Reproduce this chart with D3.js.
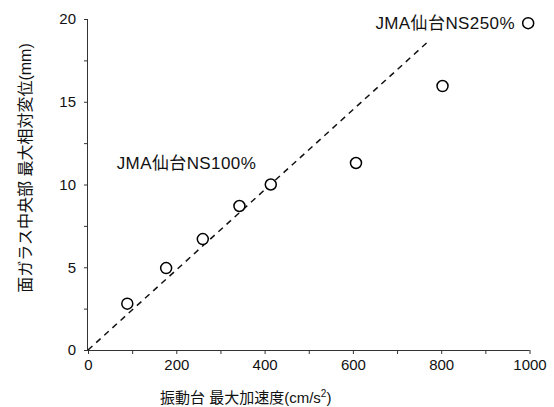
<!DOCTYPE html>
<html>
<head>
<meta charset="utf-8">
<script src="https://cdn.jsdelivr.net/npm/d3@7"></script>
<style>
  body { margin: 0; background: #fff; }
  svg { display: block; font-family: "Liberation Sans", Arial, "Noto Sans CJK JP", sans-serif; }
</style>
</head>
<body>
<div id="graph"></div>
<script>
// accel (cm/s2) vs max relative displacement (mm)
var accel = [89, 177, 260, 343, 414, 607, 803, 997];
var disp = [2.8, 4.95, 6.7, 8.7, 10.0, 11.3, 15.95, 19.75];
var fitLine = [[0, 0], [769, 18.6]];
var xTicks = [0, 200, 400, 600, 800, 1000];
var yTicks = [0, 5, 10, 15, 20];
var labels = [
  {text: "JMA仙台NS100%", x: 65, y: 11.3},
  {text: "JMA仙台NS250%", x: 651, y: 19.75}
];

var w = 554, h = 407;
var vis = d3.select("#graph").append("svg")
  .attr("width", w)
  .attr("height", h);

var x = d3.scaleLinear().domain([0, 1000]).range([88, 529.5]);
var y = d3.scaleLinear().domain([0, 20]).range([350, 19]);

var xAxis = d3.axisBottom(x)
  .tickValues(d3.range(0, 1001, 100))
  .tickSize(4)
  .tickFormat(function(d) { return xTicks.indexOf(d) >= 0 ? d : ""; });
var yAxis = d3.axisLeft(y)
  .tickValues(d3.range(0, 20.01, 2.5))
  .tickSize(4)
  .tickFormat(function(d) { return yTicks.indexOf(d) >= 0 ? d : ""; });

var gx = vis.append("g")
  .attr("transform", "translate(0," + y(0) + ")")
  .call(xAxis);
var gy = vis.append("g")
  .attr("transform", "translate(" + x(0) + ",0)")
  .call(yAxis);

[gx, gy].forEach(function(g) {
  g.select(".domain").attr("stroke", "#333");
  g.selectAll(".tick line").attr("stroke", "#333");
  g.selectAll(".tick text")
    .attr("fill", "#111")
    .style("font-size", "15px")
    .style("font-family", "'Liberation Sans', Arial, sans-serif");
});
// plain axis lines with no end ticks
gx.select(".domain").attr("d", "M" + x(0) + ",0.5H" + x(1000));
gy.select(".domain").attr("d", "M-0.5," + y(0) + "V" + y(20));
gx.selectAll(".tick text").attr("dy", "0.95em").attr("y", 6);
gy.selectAll(".tick text").attr("x", -12);

// dashed fit line
vis.append("line")
  .attr("x1", x(fitLine[0][0]))
  .attr("y1", y(fitLine[0][1]))
  .attr("x2", x(fitLine[1][0]))
  .attr("y2", y(fitLine[1][1]))
  .style("stroke", "#111")
  .style("stroke-width", 1.5)
  .style("stroke-dasharray", "6,5");

vis.selectAll("circle.pt")
  .data(accel)
  .enter()
  .append("circle")
  .attr("class", "pt")
  .attr("cx", function(d) { return x(d); })
  .attr("cy", function(d, i) { return y(disp[i]); })
  .attr("r", 5.5)
  .attr("fill", "#fff")
  .attr("stroke", "#000")
  .attr("stroke-width", 1.5);

vis.selectAll("text.lbl")
  .data(labels)
  .enter()
  .append("text")
  .attr("class", "lbl")
  .attr("x", function(d) { return x(d.x); })
  .attr("y", function(d) { return y(d.y); })
  .attr("dy", "0.35em")
  .style("font-size", "17px")
  .style("letter-spacing", "0.4px")
  .attr("fill", "#111")
  .text(function(d) { return d.text; });

// axis titles
var xt = vis.append("text")
  .attr("x", 160)
  .attr("y", 403)
  .style("font-size", "15px")
  .attr("fill", "#111");
xt.append("tspan").text("振動台 最大加速度(cm/s");
xt.append("tspan").attr("dy", -6).style("font-size", "10px").text("2");
xt.append("tspan").attr("dy", 6).text(")");

vis.append("text")
  .attr("transform", "translate(31,168) rotate(-90)")
  .attr("text-anchor", "middle")
  .style("font-size", "16px")
  .attr("fill", "#111")
  .text("面ガラス中央部 最大相対変位(mm)");
</script>
</body>
</html>
